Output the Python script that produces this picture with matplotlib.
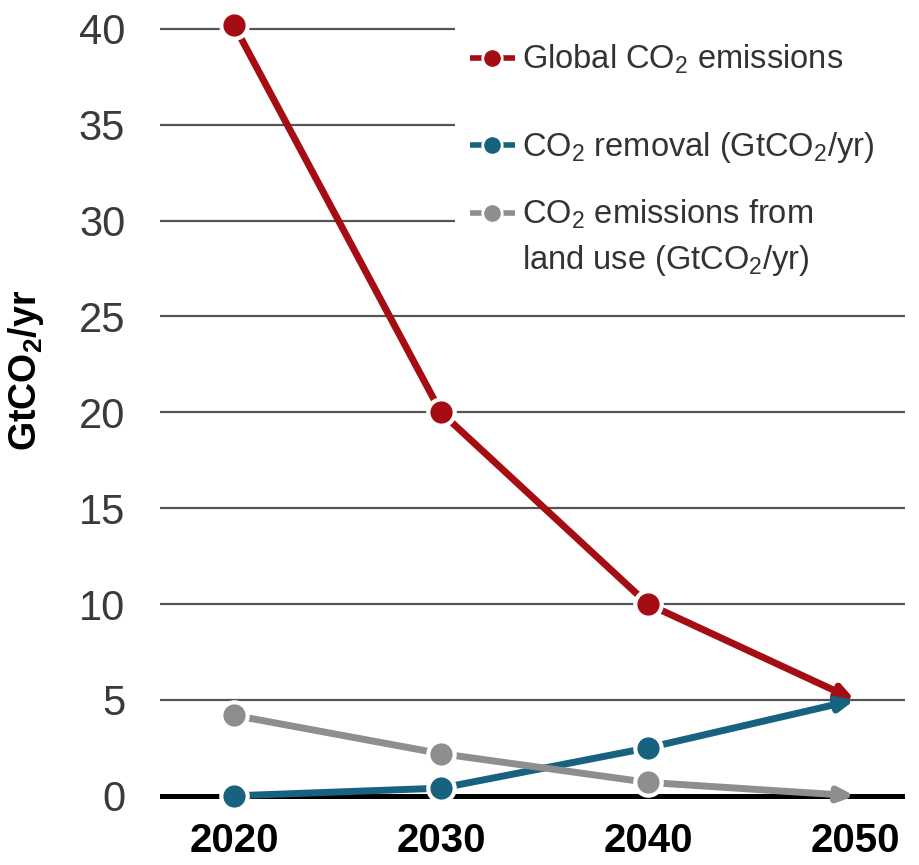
import matplotlib
matplotlib.use("Agg")
import matplotlib.pyplot as plt
from matplotlib.patches import Rectangle
from matplotlib import font_manager as fm

years = [2020, 2030, 2040, 2050]
global_emissions = [40.2, 20.0, 10.0, 5.0]
co2_removal = [0.0, 0.4, 2.5, 5.0]
land_use = [4.2, 2.2, 0.7, 0.0]
yticks = [0, 5, 10, 15, 20, 25, 30, 35, 40]
labels = ["Global CO$_2$ emissions", "CO$_2$ removal (GtCO$_2$/yr)",
          "CO$_2$ emissions from\nland use (GtCO$_2$/yr)"]

names = {f.name for f in fm.fontManager.ttflist}
fam = "Liberation Sans Narrow" if "Liberation Sans Narrow" in names else "Liberation Sans"
plt.rcParams['font.family'] = [fam, 'DejaVu Sans']
plt.rcParams['mathtext.fontset'] = 'custom'
plt.rcParams['mathtext.rm'] = fam
plt.rcParams['mathtext.bf'] = fam + ':bold'
plt.rcParams['mathtext.default'] = 'regular'

W, H = 920, 865
AX_L, AX_W, AX_TOP, AX_H = 160, 745, 0, 815
fig = plt.figure(figsize=(W/100, H/100), dpi=100)
ax = fig.add_axes([AX_L/W, (H-AX_H)/H, AX_W/W, AX_H/H])
ax.set_xlim(2016.43, 2052.42)
ax.set_ylim(-1, 41.5)
for s in ax.spines.values():
    s.set_visible(False)

def fx(px):
    return (px - AX_L) / AX_W

def fy(py):
    return (AX_H - py) / AX_H

for t in yticks:
    if t == 0:
        ax.axhline(t, color='black', lw=3.6, zorder=1)
    else:
        ax.axhline(t, color='#555555', lw=1.6, zorder=1)

red, blue, gray = '#a50d12', '#17627e', '#8e8e90'
series = [(global_emissions, red), (co2_removal, blue), (land_use, gray)]
ms = 19
for vals, c in series:
    ax.annotate('', xy=(years[-1], vals[-1]), xytext=(years[-2], vals[-2]),
                arrowprops=dict(arrowstyle='-|>,head_length=0.9,head_width=0.4',
                                color=c, lw=5, shrinkA=0, shrinkB=0), zorder=3)
    ax.plot(years[:-1], vals[:-1], color=c, lw=5, solid_capstyle='butt', zorder=3)
for vals, c in series:
    ax.plot(years[:-1], vals[:-1], ls='none', marker='o', ms=ms, mfc=c,
            mec='white', mew=3, zorder=4)

ax.set_yticks(yticks)
ax.set_yticklabels([str(t) for t in yticks], fontsize=30, color='#3a3a3a')
ax.set_xticks(years)
ax.set_xticklabels([str(y) for y in years], fontsize=29, fontweight='bold')
ax.tick_params(axis='both', length=0)
ax.tick_params(axis='y', pad=25)
ax.tick_params(axis='x', pad=5)
ax.set_ylabel('GtCO$_\\mathbf{2}$/yr', fontsize=27, fontweight='bold')
ax.yaxis.set_label_coords(fx(46), 0.546)

# legend (drawn manually): white panel hiding gridlines, handles and labels
ax.add_patch(Rectangle((fx(455), fy(295)), fx(AX_L + AX_W) - fx(455), fy(8) - fy(295),
                       transform=ax.transAxes, facecolor='white', edgecolor='none',
                       zorder=5, clip_on=False))
row_y = [58, 145, 213]
for (vals, c), lab, py in zip(series, labels, row_y):
    ax.plot([fx(470), fx(515)], [fy(py), fy(py)], transform=ax.transAxes, color=c,
            lw=4, solid_capstyle='butt', zorder=6, clip_on=False)
    ax.plot([fx(492)], [fy(py)], transform=ax.transAxes, ls='none', marker='o', ms=14,
            mfc=c, mec='white', mew=2, zorder=7, clip_on=False)
    for i, line in enumerate(lab.split('\n')):
        ax.text(fx(522), fy(py + 11 + 45 * i), line, transform=ax.transAxes,
                fontsize=23.5, color='#333333', ha='left', va='baseline', zorder=7)

fig.savefig('out.png', dpi=100)
